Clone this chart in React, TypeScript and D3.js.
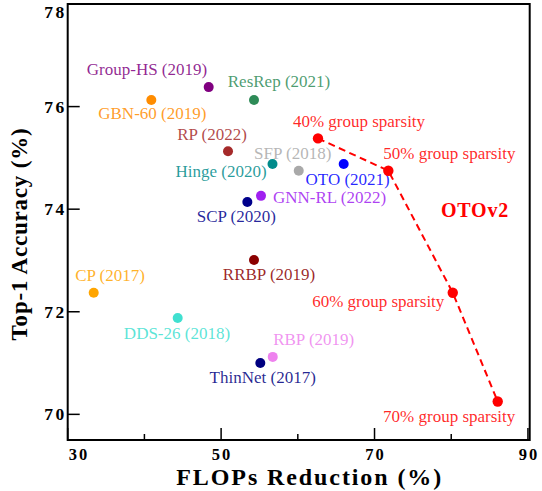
import React from "react";
import * as d3 from "d3";

// ---- data ----
const methods = [
  "Group-HS (2019)", "GBN-60 (2019)", "ResRep (2021)", "RP (2022)", "Hinge (2020)",
  "SFP (2018)", "OTO (2021)", "GNN-RL (2022)", "SCP (2020)", "CP (2017)",
  "RRBP (2019)", "DDS-26 (2018)", "RBP (2019)", "ThinNet (2017)",
];
const methodFlops = [48.38, 40.9, 54.29, 50.9, 56.7, 60.12, 65.98, 55.2, 53.42, 33.39, 54.29, 44.34, 56.73, 55.11];
const methodAcc = [76.38, 76.13, 76.13, 75.13, 74.88, 74.75, 74.88, 74.26, 74.14, 72.37, 73.01, 71.88, 71.12, 71.0];
const methodColors = [
  "#800080", "#FF8C00", "#2E8B57", "#A52A2A", "#008B8B",
  "#A9A9A9", "#0000FF", "#A020F0", "#00008B", "#FFA500",
  "#8B0000", "#40E0D0", "#EE82EE", "#000080",
];

const otoLabels = ["40% group sparsity", "50% group sparsity", "60% group sparsity", "70% group sparsity"];
const otoFlops = [62.63, 71.8, 80.2, 86.06];
const otoAcc = [75.38, 74.75, 72.37, 70.25];

const xMajorTicks = [30, 50, 70, 90];
const xMinorTicks = [40, 60, 80];
const yTicks = [70, 72, 74, 76, 78];

// ---- layout (label offsets from marker centre, px) ----
const methodLabelOffsets: [number, number][] = [
  [-61.7, -18], [1, 14], [25, -18], [-16, -17], [-51.5, 7.7],
  [-6, -17.7], [4, 15], [68.5, 2], [-11, 15], [16.3, -17.7],
  [15, 15], [-0.7, 15.3], [41, -17.7], [2.4, 14.4],
];
const otoLabelOffsets: [number, number][] = [
  [41, -16.6], [61, -17.4], [-74.5, 9], [-48.5, 15],
];

const W = 542;
const H = 491;
const left = 67.7, right = 529.7, top = 4, bottom = 440;
const SERIF = "'Liberation Serif', 'Times New Roman', serif";

export default function App() {
  const x = d3.scaleLinear().domain([30, 90.23]).range([left, right]);
  const y = d3.scaleLinear().domain([69.5, 78]).range([bottom, top]);

  const otoPts: [number, number][] = otoFlops.map((f, i) => [x(f), y(otoAcc[i])]);
  const line = d3.line().curve(d3.curveLinear)(otoPts) || "";

  return (
    <svg
      width={W}
      height={H}
      style={{ position: "absolute", left: 0, top: 0, background: "#fff" }}
      fontFamily={SERIF}
    >
      <rect x={0} y={0} width={W} height={H} fill="#fff" />

      {/* ticks */}
      {xMajorTicks.map((t) => (
        <line key={"xM" + t} x1={x(t)} x2={x(t)} y1={bottom} y2={bottom - 12} stroke="#000" strokeWidth={1.5} />
      ))}
      {xMinorTicks.map((t) => (
        <line key={"xm" + t} x1={x(t)} x2={x(t)} y1={bottom} y2={bottom - 6} stroke="#000" strokeWidth={1.5} />
      ))}
      {yTicks.map((t) => (
        <line key={"y" + t} x1={left} x2={left + 12} y1={y(t)} y2={y(t)} stroke="#000" strokeWidth={1.5} />
      ))}

      {/* tick labels */}
      {xMajorTicks.map((t, i) => (
        <text
          key={"xl" + t}
          x={i === 0 ? x(t) + 1 : x(t) + 1}
          y={460}
          textAnchor={i === 0 ? "start" : "middle"}
          fontSize={16.5}
          fontWeight="bold"
          letterSpacing={2}
        >
          {t}
        </text>
      ))}
      {yTicks.map((t, i) => (
        <text
          key={"yl" + t}
          x={left - 1}
          y={i === yTicks.length - 1 ? 18 : y(t) + 6}
          textAnchor="end"
          fontSize={17.5}
          fontWeight="bold"
          letterSpacing={2.5}
        >
          {t}
        </text>
      ))}

      {/* frame */}
      <rect x={left} y={top} width={right - left} height={bottom - top} fill="none" stroke="#000" strokeWidth={2} />

      {/* axis titles */}
      <text x={309.7} y={485} textAnchor="middle" fontSize={24} fontWeight="bold" letterSpacing={1.9}>
        FLOPs Reduction (%)
      </text>
      <text
        transform="translate(27,234) rotate(-90)"
        textAnchor="middle"
        fontSize={23}
        fontWeight="bold"
        letterSpacing={0.8}
      >
        Top-1 Accuracy (%)
      </text>

      {/* method labels */}
      {methods.map((m, i) => (
        <text
          key={"ml" + i}
          x={x(methodFlops[i]) + methodLabelOffsets[i][0]}
          y={y(methodAcc[i]) + methodLabelOffsets[i][1] + 5.5}
          textAnchor="middle"
          fontSize={17}
          fill={methodColors[i]}
          fillOpacity={0.85}
        >
          {m}
        </text>
      ))}

      {/* OTOv2 */}
      <path d={line} fill="none" stroke="#FF0000" strokeWidth={2} strokeDasharray="7,4.5" />
      {otoLabels.map((l, i) => (
        <text
          key={"ol" + i}
          x={x(otoFlops[i]) + otoLabelOffsets[i][0]}
          y={y(otoAcc[i]) + otoLabelOffsets[i][1] + 5.5}
          textAnchor="middle"
          fontSize={17}
          fill="#FF0000"
          fillOpacity={0.85}
        >
          {l}
        </text>
      ))}
      <text x={475} y={216.5} textAnchor="middle" fontSize={20} fontWeight="bold" fill="#FF0000" letterSpacing={0.8}>
        OTOv2
      </text>

      {/* markers */}
      {methods.map((m, i) => (
        <circle key={"mc" + i} cx={x(methodFlops[i])} cy={y(methodAcc[i])} r={5} fill={methodColors[i]} />
      ))}
      {otoPts.map((p, i) => (
        <circle key={"oc" + i} cx={p[0]} cy={p[1]} r={5.2} fill="#FF0000" />
      ))}
    </svg>
  );
}
